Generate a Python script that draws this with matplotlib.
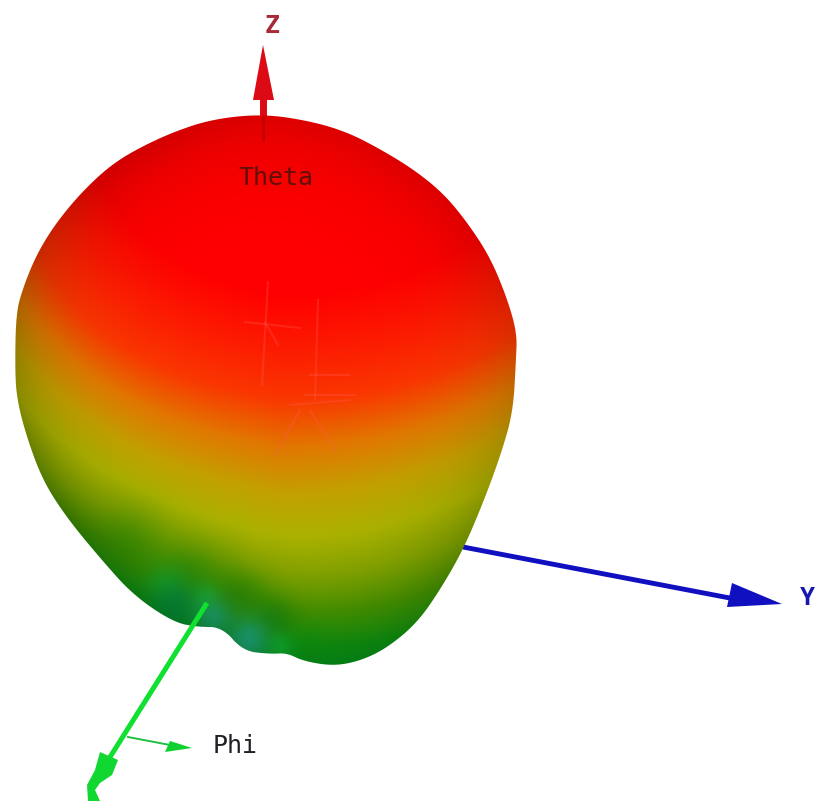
import numpy as np
import matplotlib
matplotlib.use("Agg")
import matplotlib.pyplot as plt
from matplotlib.patches import Polygon

# pattern outline (pixels)
outline_x = [263, 310, 347, 380, 413, 443, 467, 490, 507, 517, 516, 513, 500, 483, 463, 440, 417, 387, 360, 333,
             303, 287, 270, 243, 222, 197, 173, 133, 100, 67, 43, 27, 17, 15, 16, 23, 35, 50, 68, 88, 110, 135, 173, 213]
outline_y = [114, 121, 132, 149, 169, 193, 222, 257, 298, 333, 360, 413, 457, 503, 550, 590, 623, 648, 661, 666,
             661, 653, 654, 651, 627, 627, 622, 595, 558, 518, 481, 438, 400, 370, 313, 288, 258, 232, 208, 186, 166, 150, 132, 119]

# colour along the gain level
level = [120, 300, 400, 450, 500, 550, 600, 650, 700, 740]
level_r = [255, 255, 250, 225, 195, 172, 130, 70, 15, 0]
level_g = [0, 0, 55, 120, 160, 178, 162, 145, 145, 145]
level_b = [0, 0, 0, 0, 0, 0, 0, 0, 15, 30]

# green ridge and teal patches around the lower lobes: x, y, size, r, g, b, strength
patch_x = [130, 190, 240, 272, 310, 165, 205, 280, 175, 213, 248]
patch_y = [545, 575, 600, 622, 645, 585, 598, 648, 605, 618, 640]
patch_s = [26, 24, 20, 15, 12, 13, 10, 10, 18, 13, 15]
patch_r = [40, 35, 35, 25, 15, 15, 20, 15, 0, 30, 30]
patch_g = [140, 135, 130, 130, 150, 185, 195, 190, 135, 165, 165]
patch_b = [5, 5, 5, 10, 15, 50, 60, 50, 70, 120, 130]
patch_a = [0.5, 0.6, 0.7, 0.8, 0.5, 0.5, 0.5, 0.6, 0.7, 0.8, 0.85]

# faint ghost lines on the surface
ghost_x = [[245, 300], [268, 262], [265, 278], [318, 315], [310, 350], [305, 355], [300, 275], [310, 335], [290, 350]]
ghost_y = [[322, 328], [282, 385], [322, 345], [300, 400], [375, 375], [395, 395], [410, 455], [410, 450], [405, 400]]

z_shaft_x, z_shaft_y = [263, 263], [118, 95]
z_head_x, z_head_y = [263, 274, 253], [45, 100, 100]
y_shaft_x, y_shaft_y = [463, 735], [547, 599]
y_head_x, y_head_y = [782, 727, 732], [604, 607, 583]
x_shaft_x, x_shaft_y = [207, 105], [603, 765]
x_head_x = [100, 118, 112, 100, 95, 100, 88, 87, 95]
x_head_y = [752, 760, 775, 783, 790, 801, 801, 785, 770]
phi_shaft_x, phi_shaft_y = [128, 170], [737, 745]
phi_head_x, phi_head_y = [192, 165, 170], [748, 752, 741]


def smooth(x, y, n=3):
    # corner cutting, the outline is closed
    p = np.column_stack([x, y]).astype(float)
    for _ in range(n):
        q = np.roll(p, -1, axis=0)
        p = np.column_stack([0.75 * p + 0.25 * q, 0.25 * p + 0.75 * q]).reshape(-1, 2)
    return p


fig = plt.figure(figsize=(8.30, 8.01), dpi=100)
ax = fig.add_axes([0, 0, 1, 1])
ax.axis("off")

shape = smooth(outline_x, outline_y)

xx, yy = np.meshgrid(np.arange(0, 530), np.arange(100, 680))

# distance from the middle, 1 on the rim
cx, cy = 265, 385
ang = np.arctan2(yy - cy, xx - cx)
rim_ang = np.arctan2(shape[:, 1] - cy, shape[:, 0] - cx)
rim_r = np.hypot(shape[:, 0] - cx, shape[:, 1] - cy)
order = np.argsort(rim_ang)
rn = np.clip(np.hypot(xx - cx, yy - cy) / np.interp(ang, rim_ang[order], rim_r[order], period=2 * np.pi), 0, 1)
left = np.clip((280 - xx) / 260.0, 0, 1)

# the colour moves toward green at the rim
v = yy + 0.2 * np.clip(280 - xx, 0, None) + (65 + 35 * left) * rn ** 2.5
rgb = np.dstack([np.interp(v, level, level_r), np.interp(v, level, level_g), np.interp(v, level, level_b)])

for i in range(len(patch_x)):
    w = patch_a[i] * np.exp(-((xx - patch_x[i]) ** 2 + (yy - patch_y[i]) ** 2) / (2.0 * patch_s[i] ** 2))
    rgb = rgb * (1 - w[..., None]) + np.array([patch_r[i], patch_g[i], patch_b[i]]) * w[..., None]

shade = 1 - (0.14 + 0.08 * left) * rn ** 6
rgb = rgb * shade[..., None]

im = ax.imshow(rgb / 255.0, extent=(-0.5, 529.5, 679.5, 99.5), interpolation="bilinear", aspect="auto", zorder=2)
ax.set_xlim(0, 830)
ax.set_ylim(801, 0)
im.set_clip_path(Polygon(shape, closed=True, transform=ax.transData))

for gx, gy in zip(ghost_x, ghost_y):
    ax.plot(gx, gy, color="#ff5a50", lw=1.5, alpha=0.3, zorder=3)

# axes and labels
ax.plot([263, 263], [118, 140], color="#b00000", lw=2, alpha=0.6, zorder=3)
ax.plot(z_shaft_x, z_shaft_y, color="#dc0a14", lw=5, solid_capstyle="butt", zorder=1)
ax.fill(z_head_x, z_head_y, color="#dc0a14", lw=0, zorder=1)
ax.plot(y_shaft_x, y_shaft_y, color="#1010c0", lw=3.5, solid_capstyle="butt", zorder=1)
ax.fill(y_head_x, y_head_y, color="#1010c0", lw=0, zorder=1)
ax.plot(x_shaft_x, x_shaft_y, color="#10e030", lw=3.6, solid_capstyle="butt", zorder=4)
ax.fill(x_head_x, x_head_y, color="#10d830", lw=0, zorder=4)
ax.plot(phi_shaft_x, phi_shaft_y, color="#20c040", lw=1.4, zorder=4)
ax.fill(phi_head_x, phi_head_y, color="#10d030", lw=0, zorder=4)

ax.text(272, 26, "Z", color="#a82838", family="DejaVu Sans Mono", fontweight="bold", fontsize=18, ha="center", va="center", zorder=5)
ax.text(807, 598, "Y", color="#1818b0", family="DejaVu Sans Mono", fontweight="bold", fontsize=18, ha="center", va="center", zorder=5)
ax.text(276, 178, "Theta", color="#601008", family="DejaVu Sans Mono", fontsize=18, ha="center", va="center", zorder=5)
ax.text(235, 746, "Phi", color="#202028", family="DejaVu Sans Mono", fontsize=18, ha="center", va="center", zorder=5)

fig.savefig("out.png", dpi=100)
